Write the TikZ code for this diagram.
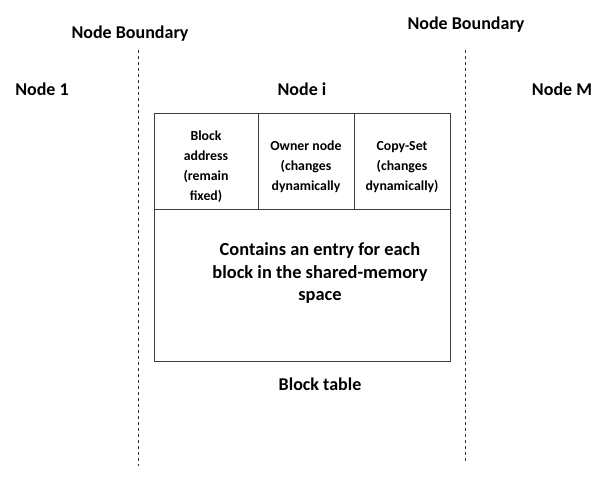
\documentclass[tikz,border=0pt]{standalone}
\usepackage{fontspec}
\setmainfont{Carlito}
\definecolor{tableedge}{HTML}{3C3C3C}

\begin{document}
\begin{tikzpicture}[
  x=1pt,
  y=-1pt,
  line join=round,
  boundary/.style={draw=black!80,line width=0.6pt,dash pattern=on 3pt off 3pt},
  tablebox/.style={draw=tableedge,line width=0.9pt},
  label/.style={font=\bfseries\fontsize{18}{20}\selectfont,inner sep=0pt},
  cell/.style={font=\bfseries\fontsize{13.8}{20}\selectfont,align=center,inner sep=0pt},
  body/.style={font=\bfseries\fontsize{18.4}{22.5}\selectfont,align=center,inner sep=0pt}
]
  \useasboundingbox (0,0) rectangle (607,478);

  % Block table corners and column splits.
  \coordinate (TL) at (154,113);
  \coordinate (BR) at (450,361);
  \coordinate (HL) at (154,209);
  \coordinate (HR) at (450,209);
  \coordinate (C1) at (258,113);
  \coordinate (C1b) at (258,209);
  \coordinate (C2) at (354,113);
  \coordinate (C2b) at (354,209);

  % Dashed node boundaries.
  \coordinate (LBtop) at (138,50);
  \coordinate (LBbot) at (138,466);
  \coordinate (RBtop) at (465,50);
  \coordinate (RBbot) at (465,461);
  \draw[boundary] (LBtop) -- (LBbot);
  \draw[boundary] (RBtop) -- (RBbot);

  % Outer table with header row.
  \draw[tablebox] (TL) rectangle (BR);
  \draw[tablebox] (HL) -- (HR);
  \draw[tablebox] (C1) -- (C1b);
  \draw[tablebox] (C2) -- (C2b);

  % Labels above the table.
  \node[label] (lbound) at (130,34) {Node Boundary};
  \node[label] (rbound) at (466,25) {Node Boundary};
  \node[label] (node1) at (42,89) {Node 1};
  \node[label] (nodei) at (302,89) {Node i};
  \node[label] (nodeM) at (562,89) {Node M};

  % Header cells.
  \node[cell] (addr) at (206,167) {Block\\address\\(remain\\fixed)};
  \node[cell] (owner) at (306,167) {Owner node\\(changes\\dynamically};
  \node[cell] (copyset) at (402,167) {Copy-Set\\(changes\\dynamically)};

  % Body text and caption.
  \node[body] (entry) at (320,273) {Contains an entry for each\\block in the shared-memory\\space};
  \node[label] (caption) at (320,384) {Block table};
\end{tikzpicture}
\end{document}
